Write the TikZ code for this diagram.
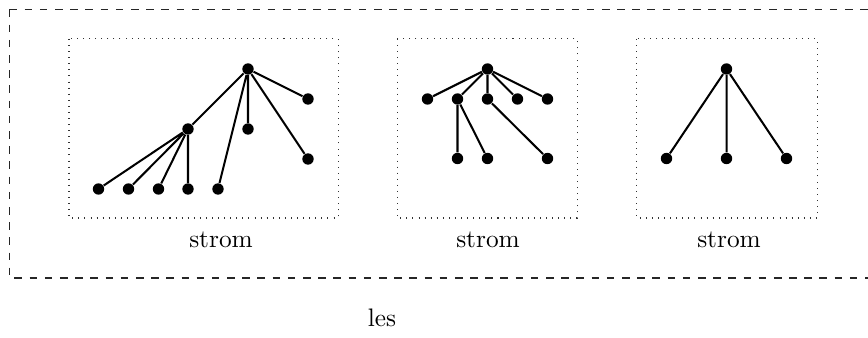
\documentclass[tikz,border=0pt]{standalone}
\begin{document}
\begin{tikzpicture}[x=0.395pt,y=-0.395pt,
  dot/.style={circle,fill=black,inner sep=0pt,minimum size=4.5pt},
  edge/.style={line width=0.8pt},
  frame/.style={dotted,line width=0.4pt,draw=black!80},
  outer/.style={dashed,line width=0.4pt,draw=black!85},
  lbl/.style={anchor=base,inner sep=0pt,font=\normalsize}]
\useasboundingbox (0,0) rectangle (868,338);
\clip (0,0) rectangle (868,338);
\draw[outer] (9.5,9.5) -- (900,9.5) (9.5,9.5) -- (9.5,278) -- (900,278);
% tree 1
\draw[frame] (69,39) rectangle (338,218);
\node[dot] (a0) at (248,69) {};
\node[dot] (a1) at (308,99) {};
\node[dot] (a2) at (188,129) {};
\node[dot] (a3) at (248,129) {};
\node[dot] (a4) at (308,159) {};
\node[dot] (a5) at (98.5,189) {};
\node[dot] (a6) at (128.5,189) {};
\node[dot] (a7) at (158.5,189) {};
\node[dot] (a8) at (188,189) {};
\node[dot] (a9) at (218,189) {};
\draw[edge] (a0) -- (a1) (a0) -- (a2) (a0) -- (a3) (a0) -- (a4) (a0) -- (a9)
  (a2) -- (a5) (a2) -- (a6) (a2) -- (a7) (a2) -- (a8);
\node[lbl] (s1) at (221,248) {strom};
% tree 2
\draw[frame] (397,39) rectangle (577,218);
\node[dot] (b0) at (487.5,69) {};
\node[dot] (b1) at (427.5,99) {};
\node[dot] (b2) at (457.5,99) {};
\node[dot] (b3) at (487.5,99) {};
\node[dot] (b4) at (517.5,99) {};
\node[dot] (b5) at (547.5,99) {};
\node[dot] (b6) at (457.5,158.5) {};
\node[dot] (b7) at (487.5,158.5) {};
\node[dot] (b8) at (547.5,158.5) {};
\draw[edge] (b0) -- (b1) (b0) -- (b2) (b0) -- (b3) (b0) -- (b4) (b0) -- (b5)
  (b2) -- (b6) (b2) -- (b7) (b3) -- (b8);
\node[lbl] (s2) at (488,248) {strom};
% tree 3
\draw[frame] (636.5,39) rectangle (817,218);
\node[dot] (c0) at (726.5,69) {};
\node[dot] (c1) at (666.5,158.5) {};
\node[dot] (c2) at (726.5,158.5) {};
\node[dot] (c3) at (786.5,158.5) {};
\draw[edge] (c0) -- (c1) (c0) -- (c2) (c0) -- (c3);
\node[lbl] (s3) at (729,248) {strom};
\node[lbl] (les) at (382,327) {les};
\end{tikzpicture}
\end{document}
